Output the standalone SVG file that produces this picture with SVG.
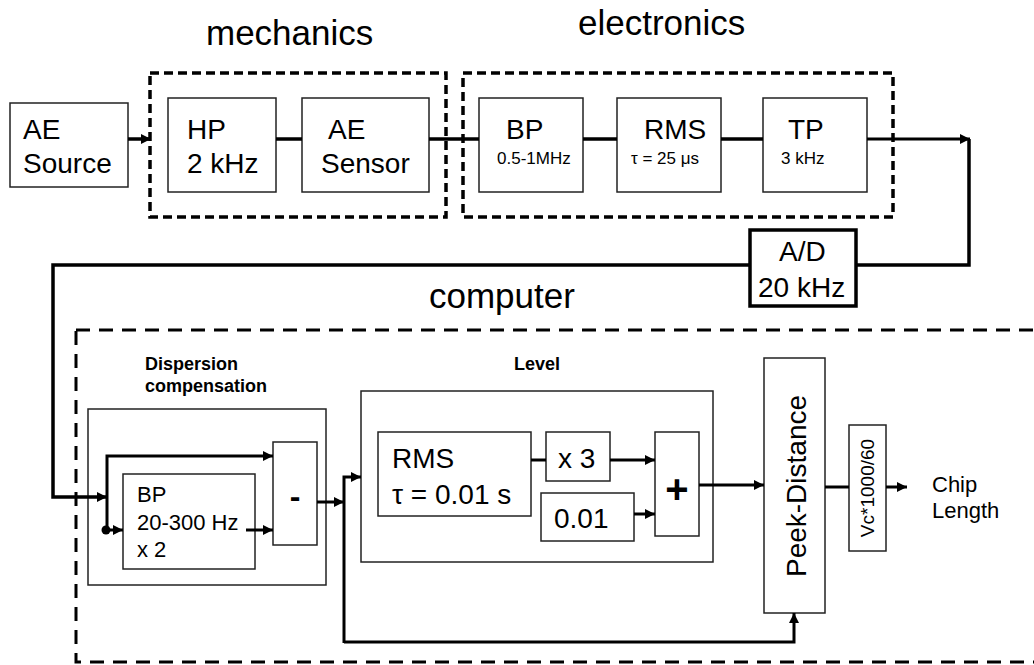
<svg xmlns="http://www.w3.org/2000/svg" width="1034" height="665" viewBox="0 0 1034 665">
  <defs>
    <marker id="arr" viewBox="0 0 10 10" markerWidth="11" markerHeight="10" refX="10" refY="5" orient="auto" markerUnits="userSpaceOnUse">
      <path d="M0,0 L10,5 L0,10 z" fill="#000"/>
    </marker>
  </defs>
  <style>
    text { font-family: "Liberation Sans", Arial, sans-serif; fill: #000; }
    .box { fill: #fff; stroke: #222; stroke-width: 1.5; }
    .thick { fill: #fff; stroke: #000; stroke-width: 3.5; }
    .grp { fill: none; stroke: #000; stroke-width: 3.5; stroke-dasharray: 9 5; }
    .comp { fill: none; stroke: #000; stroke-width: 3; stroke-dasharray: 14 9; }
    .wire { fill: none; stroke: #000; stroke-width: 3.5; }
    .w3 { stroke-width: 3; }
    .h { font-size: 35px; }
    .t { font-size: 28px; }
    .m { font-size: 22px; }
    .s { font-size: 17px; }
    .v { font-size: 19px; }
    .b { font-size: 18px; font-weight: bold; }
  </style>
  <rect width="1034" height="665" fill="#fff"/>

  <!-- section headings -->
  <text class="h" x="206" y="45">mechanics</text>
  <text class="h" x="578" y="35">electronics</text>
  <text class="h" x="429" y="308">computer</text>

  <!-- dashed groupings -->
  <rect id="mechanics" class="grp" x="150" y="73" width="296" height="144"/>
  <rect id="electronics" class="grp" x="463" y="73" width="430" height="144"/>
  <rect id="computer" class="comp" x="76" y="330" width="975" height="332"/>

  <g id="ae-source">
    <rect class="box" x="10" y="103" width="118" height="84"/>
    <text class="t" x="23" y="139">AE</text>
    <text class="t" x="23" y="173">Source</text>
  </g>
  <g id="hp">
    <rect class="box" x="168" y="98" width="108" height="94"/>
    <text class="t" x="187" y="139">HP</text>
    <text class="t" x="187" y="173">2 kHz</text>
  </g>
  <g id="ae-sensor">
    <rect class="box" x="302" y="98" width="127" height="94"/>
    <text class="t" x="328" y="139">AE</text>
    <text class="t" x="321" y="173">Sensor</text>
  </g>
  <g id="bp-hf">
    <rect class="box" x="479" y="98" width="104" height="94"/>
    <text class="t" x="506" y="139">BP</text>
    <text class="s" x="497" y="164">0.5-1MHz</text>
  </g>
  <g id="rms-hf">
    <rect class="box" x="617" y="98" width="104" height="94"/>
    <text class="t" x="644" y="139">RMS</text>
    <text class="s" x="631" y="164">τ = 25 μs</text>
  </g>
  <g id="tp">
    <rect class="box" x="763" y="98" width="104" height="94"/>
    <text class="t" x="788" y="139">TP</text>
    <text class="s" x="781" y="164">3 kHz</text>
  </g>
  <g id="ad">
    <rect class="thick" x="750" y="230" width="106" height="76"/>
    <text class="t" x="779" y="261">A/D</text>
    <text class="t" x="758" y="297">20 kHz</text>
  </g>

  <g id="dispersion">
    <text class="b" x="145" y="370">Dispersion</text>
    <text class="b" x="145" y="392">compensation</text>
    <rect class="box" x="88" y="409" width="238" height="176"/>
  </g>
  <g id="bp-lf">
    <rect class="box" x="123" y="474" width="132" height="95"/>
    <text class="m" x="137" y="502">BP</text>
    <text class="m" x="137" y="530">20-300 Hz</text>
    <text class="m" x="137" y="557">x 2</text>
  </g>
  <g id="minus">
    <rect class="box" x="273" y="442" width="44" height="103"/>
    <text x="295" y="507" font-size="32" font-weight="bold" text-anchor="middle">-</text>
  </g>

  <g id="level">
    <text class="b" x="514" y="370">Level</text>
    <rect class="box" x="361" y="391" width="352" height="171"/>
  </g>
  <g id="rms-lf">
    <rect class="box" x="378" y="432" width="153" height="84"/>
    <text class="t" x="392" y="468">RMS</text>
    <text class="t" x="392" y="504">τ = 0.01 s</text>
  </g>
  <g id="times3">
    <rect class="box" x="546" y="432" width="64" height="49"/>
    <text class="t" x="558" y="468">x 3</text>
  </g>
  <g id="offset">
    <rect class="box" x="541" y="493" width="93" height="48"/>
    <text class="t" x="554" y="528">0.01</text>
  </g>
  <g id="plus">
    <rect class="box" x="655" y="432" width="44" height="104"/>
    <text x="677" y="503" font-size="40" font-weight="bold" text-anchor="middle">+</text>
  </g>

  <g id="peek-distance">
    <rect class="box" x="764" y="358" width="61" height="255"/>
    <text class="t" transform="translate(806,486) rotate(-90)" text-anchor="middle">Peek-Distance</text>
  </g>
  <g id="vc">
    <rect class="box" x="849" y="425" width="37" height="126"/>
    <text class="v" transform="translate(874,488) rotate(-90)" text-anchor="middle">Vc*1000/60</text>
  </g>
  <g id="chip-length">
    <text class="m" x="932" y="492">Chip</text>
    <text class="m" x="932" y="518">Length</text>
  </g>

  <g id="connectors">
    <!-- acquisition chain -->
    <line class="wire" x1="128" y1="139" x2="151" y2="139" marker-end="url(#arr)"/>
    <line class="wire" x1="276" y1="139" x2="302" y2="139"/>
    <line class="wire" x1="429" y1="139" x2="479" y2="139"/>
    <line class="wire" x1="583" y1="139" x2="617" y2="139"/>
    <line class="wire" x1="721" y1="139" x2="763" y2="139"/>
    <line class="wire w3" x1="867" y1="139" x2="970" y2="139" marker-end="url(#arr)"/>
    <polyline class="wire" points="969,139 969,265 856,265"/>
    <polyline class="wire" points="750,265 53,265 53,497 107,497" marker-end="url(#arr)"/>

    <!-- dispersion compensation -->
    <polyline class="wire w3" points="107,530 107,456 273,456" marker-end="url(#arr)"/>
    <circle cx="106" cy="530" r="4.5" fill="#000"/>
    <line class="wire w3" x1="106" y1="530" x2="123" y2="530" marker-end="url(#arr)"/>
    <line class="wire w3" x1="246" y1="530" x2="273" y2="530" marker-end="url(#arr)"/>
    <line class="wire w3" x1="317" y1="502" x2="344" y2="502" marker-end="url(#arr)"/>

    <!-- level -->
    <polyline class="wire w3" points="344,643 344,477 361,477" marker-end="url(#arr)"/>
    <line class="wire w3" x1="531" y1="460" x2="546" y2="460"/>
    <line class="wire w3" x1="610" y1="460" x2="655" y2="460" marker-end="url(#arr)"/>
    <line class="wire w3" x1="634" y1="514" x2="655" y2="514" marker-end="url(#arr)"/>
    <line class="wire w3" x1="699" y1="485" x2="764" y2="485" marker-end="url(#arr)"/>

    <!-- peak distance and output -->
    <polyline class="wire w3" points="344,642 794,642 794,613" marker-end="url(#arr)"/>
    <line class="wire w3" x1="825" y1="487" x2="849" y2="487"/>
    <line class="wire w3" x1="886" y1="487" x2="907" y2="487" marker-end="url(#arr)"/>
  </g>
</svg>
